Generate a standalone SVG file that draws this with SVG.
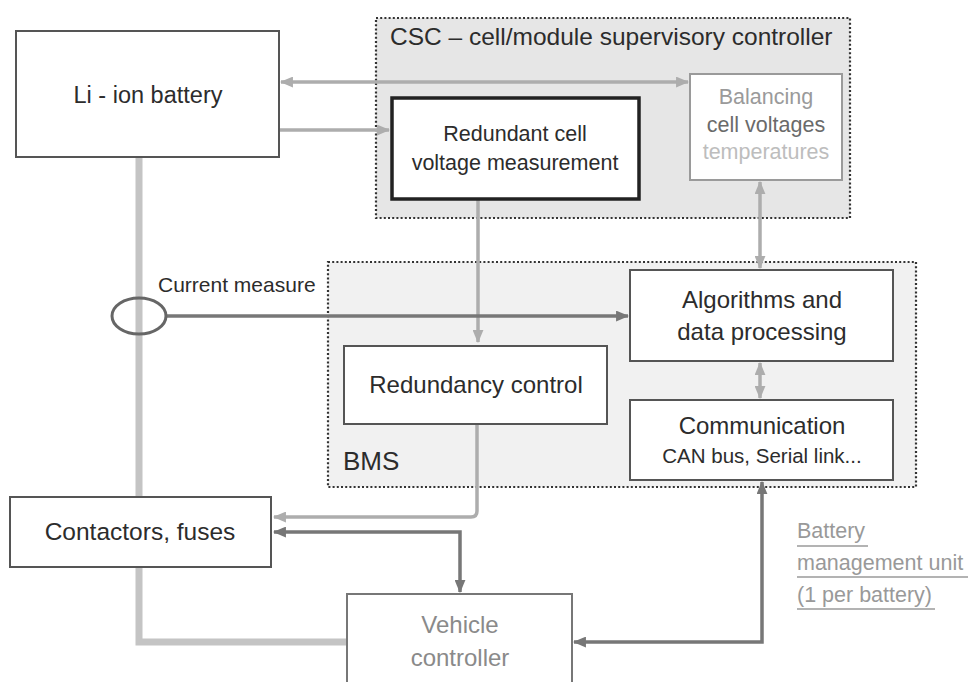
<svg xmlns="http://www.w3.org/2000/svg" width="968" height="682" viewBox="0 0 968 682">
  <defs>
    <style>
      text { font-family: "Liberation Sans", Arial, sans-serif; fill: #2c2c2c; }
      .c { text-anchor: middle; }
      .box { fill: #fff; stroke: #555; stroke-width: 2; }
      .group { stroke: #333; stroke-width: 2.2; stroke-dasharray: 2 2.2; }
      .light { fill: none; stroke: #adadad; stroke-width: 3.5; }
      .dark { fill: none; stroke: #777; stroke-width: 3.5; }
      .power { fill: none; stroke: #c4c4c4; stroke-width: 7; }
      .note { fill: #999; font-size: 21.5px; }
      .rule { stroke: #9a9a9a; stroke-width: 1.5; }
    </style>
    <marker id="ahLight" viewBox="0 0 12 10" refX="11" refY="5" markerWidth="13" markerHeight="11" markerUnits="userSpaceOnUse" orient="auto-start-reverse">
      <path d="M0 0 L12 5 L0 10 Z" fill="#adadad"/>
    </marker>
    <marker id="ahDark" viewBox="0 0 12 10" refX="11" refY="5" markerWidth="13" markerHeight="11" markerUnits="userSpaceOnUse" orient="auto-start-reverse">
      <path d="M0 0 L12 5 L0 10 Z" fill="#777"/>
    </marker>
  </defs>

  <!-- enclosing areas -->
  <g id="csc">
    <rect class="group" x="376" y="18" width="474" height="200" fill="#e6e6e6"/>
    <text x="390" y="45" font-size="24.5">CSC – cell/module supervisory controller</text>
  </g>
  <g id="bms">
    <rect class="group" x="328" y="262" width="588" height="225" fill="#f1f1f1"/>
    <text x="343" y="470" font-size="26">BMS</text>
  </g>

  <!-- connectors -->
  <g id="connectors">
    <path class="power" d="M139 157 V497"/>
    <path class="power" d="M139 567 V642 H347"/>
    <path class="light" d="M281 82 H688" marker-start="url(#ahLight)" marker-end="url(#ahLight)"/>
    <path class="light" d="M279 130 H389" marker-end="url(#ahLight)"/>
    <path class="light" d="M478 199 V342" marker-end="url(#ahLight)"/>
    <path class="light" d="M760 182 V268" marker-start="url(#ahLight)" marker-end="url(#ahLight)"/>
    <path class="dark" d="M166 316 H628" marker-end="url(#ahDark)"/>
    <path class="light" d="M760 363 V398" marker-start="url(#ahLight)" marker-end="url(#ahLight)"/>
    <path class="light" d="M477 424 V511 Q477 517 471 517 H274" marker-end="url(#ahLight)"/>
    <path class="dark" d="M274 532 H460 V592" marker-start="url(#ahDark)" marker-end="url(#ahDark)"/>
    <path class="dark" d="M762 482 V642 H574" marker-start="url(#ahDark)" marker-end="url(#ahDark)"/>
  </g>

  <!-- current sensor -->
  <g id="current-sensor">
    <ellipse cx="139" cy="316" rx="27" ry="18" fill="none" stroke="#666" stroke-width="3"/>
    <text x="158" y="292" font-size="21">Current measure</text>
  </g>

  <!-- nodes -->
  <g id="battery">
    <rect class="box" x="16" y="31" width="263" height="126"/>
    <text class="c" x="148" y="103" font-size="23.5">Li - ion battery</text>
  </g>
  <g id="redundant-measurement">
    <rect x="392" y="98" width="247" height="101" fill="#fff" stroke="#222" stroke-width="3.5"/>
    <text class="c" x="515" y="141" font-size="21.5">Redundant cell</text>
    <text class="c" x="515" y="170" font-size="21.5">voltage measurement</text>
  </g>
  <g id="balancing">
    <rect x="690" y="74" width="152" height="106" fill="#fff" stroke="#9a9a9a" stroke-width="2"/>
    <text class="c" x="766" y="104" font-size="21.5" style="fill:#9a9a9a">Balancing</text>
    <text class="c" x="766" y="132" font-size="21.5" style="fill:#6a6a6a">cell voltages</text>
    <text class="c" x="766" y="159" font-size="21.5" style="fill:#bdbdbd">temperatures</text>
  </g>
  <g id="algorithms">
    <rect class="box" x="630" y="270" width="263" height="91"/>
    <text class="c" x="762" y="308" font-size="24">Algorithms and</text>
    <text class="c" x="762" y="340" font-size="24">data processing</text>
  </g>
  <g id="communication">
    <rect class="box" x="630" y="400" width="263" height="80"/>
    <text class="c" x="762" y="434" font-size="24">Communication</text>
    <text class="c" x="762" y="463" font-size="20.5">CAN bus, Serial link...</text>
  </g>
  <g id="redundancy-control">
    <rect class="box" x="344" y="346" width="263" height="78"/>
    <text class="c" x="476" y="393" font-size="24">Redundancy control</text>
  </g>
  <g id="contactors">
    <rect class="box" x="10" y="497" width="261" height="70"/>
    <text class="c" x="140" y="540" font-size="24.5">Contactors, fuses</text>
  </g>
  <g id="vehicle-controller">
    <rect x="347" y="594" width="225" height="100" fill="#fff" stroke="#777" stroke-width="2"/>
    <text class="c" x="460" y="633" font-size="24" style="fill:#8a8a8a">Vehicle</text>
    <text class="c" x="460" y="666" font-size="24" style="fill:#8a8a8a">controller</text>
  </g>

  <!-- unit legend -->
  <g id="bmu-note">
    <text class="note" x="797" y="538">Battery</text>
    <line class="rule" x1="797" y1="546" x2="868" y2="546"/>
    <text class="note" x="797" y="570">management unit</text>
    <line class="rule" x1="797" y1="577" x2="968" y2="577"/>
    <text class="note" x="797" y="602">(1 per battery)</text>
    <line class="rule" x1="797" y1="609" x2="935" y2="609"/>
  </g>
</svg>
